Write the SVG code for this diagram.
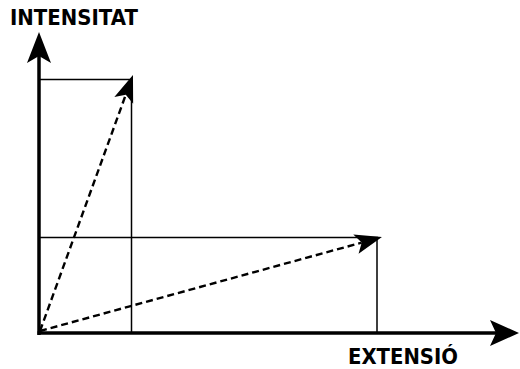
<svg xmlns="http://www.w3.org/2000/svg" width="520" height="369" viewBox="0 0 520 369">
<style>
.lbl{font-family:"DejaVu Sans","Liberation Sans",sans-serif;font-weight:bold;font-size:21px;fill:#000}
.thin{stroke:#000;stroke-width:1.5;fill:none}
.axis{stroke:#000;stroke-width:3.5;fill:none}
.dash{stroke:#000;stroke-width:2.4;stroke-dasharray:7 4;fill:none}
.head{fill:#000}
</style>
<defs>
<marker id="ah" markerUnits="userSpaceOnUse" markerWidth="30" markerHeight="24" viewBox="0 0 30 24" refX="7" refY="12" orient="auto" overflow="visible">
<path d="M28,12 L1,2 L7,12 L1,22 Z" fill="#000"/>
</marker>
</defs>
<rect width="520" height="369" fill="#fff"/>
<g id="guides">
<path class="thin" d="M40,79.5 H132 M131.5,79 V333"/>
<path class="thin" d="M40,237.5 H378 M377,237 V333"/>
</g>
<g id="axes">
<path class="axis" d="M39,335 V55"/>
<path class="head" d="M39,32 L27,63 L39,56 L51,63 Z"/>
<path class="axis" d="M37.5,333 H498"/>
<path class="head" d="M519,333 L490,320 L496,333 L490,346 Z"/>
</g>
<g id="connectors">
<path class="dash" d="M40,331 L125.8,94.7" marker-end="url(#ah)"/>
<path class="dash" d="M40,331 L361.7,242.6" marker-end="url(#ah)"/>
</g>
<g id="label-y"><text class="lbl" x="10" y="25" textLength="128" lengthAdjust="spacingAndGlyphs">INTENSITAT</text></g>
<g id="label-x"><text class="lbl" x="348" y="364" textLength="110" lengthAdjust="spacingAndGlyphs">EXTENSIÓ</text></g>
</svg>
